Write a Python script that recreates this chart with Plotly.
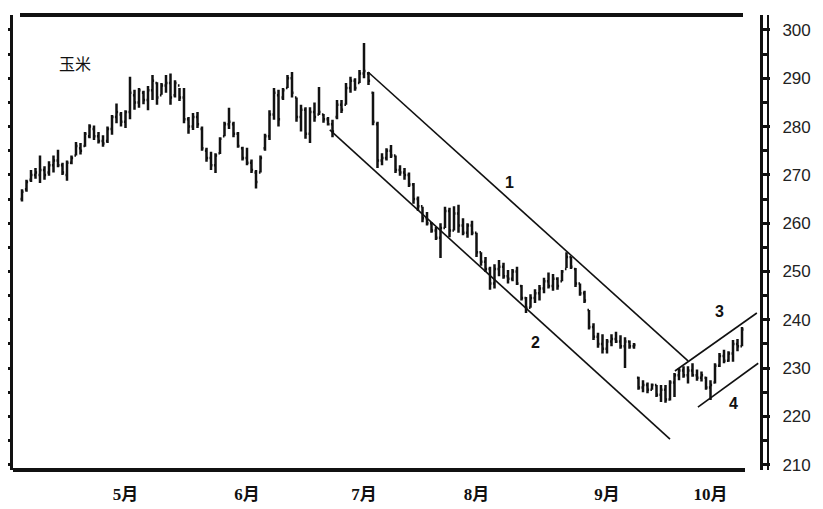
import plotly.graph_objects as go

# ---- data ----
highs = [267, 269, 271, 271.4, 274, 271.8, 272.8, 274, 275.2, 272.5,
         273, 274, 276.8, 276.6, 278.9, 280.5, 280.2, 278.9, 278.2, 280,
         282.4, 284.8, 283, 283.4, 290.3, 287.6, 288, 287.4, 288.4, 290.7,
         289.2, 289, 290.7, 291, 289.6, 288, 288, 282, 282.8, 283,
         280, 275.6, 274.8, 274.5, 277.8, 281, 283.9, 281, 278.9, 275.8,
         275.6, 273.2, 271, 274, 278.5, 283.4, 288, 287.6, 288, 290.7,
         291.3, 286, 284.5, 284, 284, 285, 288.2, 282.6, 282, 281.4,
         285.5, 285.5, 289, 290.3, 290, 291.7, 297.3, 291.3, 287.2, 281,
         274.5, 275.5, 276.2, 274, 272, 271.4, 270.5, 268.3, 265.5, 263.4,
         262.3, 260.2, 259.2, 260, 263.4, 263.2, 263.5, 263.8, 261, 260,
         260.5, 258, 254, 253, 251, 251.5, 252.4, 251.8, 250.3, 250.5,
         251, 247.2, 244.7, 245.3, 246.3, 247.2, 248.7, 249.8, 249.5, 248.8,
         250.3, 254, 253, 250.7, 247.5, 246, 242, 239.3, 237.3, 237,
         236, 237, 237.5, 236.8, 236.4, 235.7, 235.2, 228.2, 227.5, 227,
         226.8, 226.5, 226.5, 226.5, 227.5, 229, 230, 230.4, 230.4, 231,
         229.7, 229.3, 228.2, 227.5, 231, 233.1, 233.8, 233.5, 235.8, 236,
         238.5]
lows = [264.5, 266.5, 268.5, 269.2, 268.3, 269, 269.8, 270.5, 271.6, 270,
        268.8, 272.2, 274, 274.2, 275.8, 277.6, 277.2, 276.5, 275.8, 276.6,
        278.3, 280.7, 280, 279.7, 281.5, 283.5, 283.9, 284.6, 283.4, 285.5,
        284.5, 286.6, 287, 284.5, 286, 285.3, 280.7, 278.5, 279.3, 279.7,
        275, 272.7, 271, 270.4, 274.3, 278, 279.5, 277.8, 275.6, 273,
        272, 270.4, 267.2, 270.5, 275, 277.2, 281.4, 280, 285.5, 288,
        286, 281, 279, 277.5, 276.6, 281, 282.4, 280.8, 280.2, 277.8,
        281.5, 282.8, 284.5, 287, 287.4, 289, 290, 288.6, 280.3, 271.4,
        272, 273, 273.5, 270.4, 269.8, 269, 267.5, 264, 262.5, 260.2,
        259.5, 258, 256.5, 252.8, 259, 257.1, 258.5, 258, 257.5, 257,
        257.5, 253, 251.2, 249.9, 246.2, 246.5, 249, 248.5, 247.5, 248,
        247.2, 244, 241.4, 242.5, 243.5, 244, 245.5, 246.5, 246, 246.2,
        248, 250.7, 250.5, 246.8, 245, 243.5, 238, 235.8, 234.2, 233,
        233, 234.5, 235.2, 234, 230, 234, 234, 225.5, 225, 224.8,
        225.5, 224, 223, 222.8, 223.3, 224, 227.5, 228, 226.8, 228.2,
        227.4, 227.2, 225.5, 223.4, 226.8, 230.2, 231, 231.3, 231.3, 233.5,
        234.5]
opens = [265, 267, 269, 270, 270, 271, 270.5, 272, 273, 272,
         270, 272.5, 274, 275.5, 276, 278, 279.5, 278, 277, 277,
         279.5, 282, 282.5, 281, 283, 286.5, 285, 287, 285.5, 287.5,
         289, 286.5, 288.5, 289, 286.5, 288.5, 286, 281.5, 280, 282,
         279.5, 275, 273.5, 272, 274.5, 278, 280.5, 280.5, 278.5, 275.5,
         273.5, 272.5, 270.5, 270.5, 275.5, 278, 282.5, 286.5, 286, 288,
         290, 286, 282, 283.5, 278.5, 283, 282.5, 282.5, 281.5, 280.5,
         282, 284.5, 284.5, 288, 289.5, 289, 291, 291, 287, 280.5,
         273, 273.5, 275, 274, 271, 270.5, 270, 268, 265, 263.5,
         261, 260, 258.5, 257, 259, 262.5, 258.5, 262, 259.5, 258,
         259.5, 258, 254, 252, 250.5, 247.5, 250.5, 251, 249, 248.5,
         250, 247, 244.5, 242.5, 244.5, 245.5, 246.5, 248, 247, 248.5,
         248, 250.5, 253, 250.5, 247.5, 245.5, 242, 238.5, 236.5, 235,
         234, 235.5, 236, 235.5, 234.5, 235.5, 234.5, 228, 226, 226.5,
         225.5, 226.5, 224.5, 225.5, 223.5, 227, 228.5, 229.5, 228.5, 229.5,
         228.5, 228, 228, 226, 227, 230.5, 232.5, 231.5, 233, 235,
         234.5]
closes = [266.5, 268.5, 270, 270.5, 271, 270, 272, 273, 272, 270.5,
          272.5, 273.5, 276, 275, 278.5, 280, 278, 277, 276.5, 279.5,
          282, 283, 281, 283, 287, 285, 287.5, 285.5, 287.5, 289.5,
          286, 288.5, 289, 286, 289, 286, 281.5, 280, 282, 280.5,
          275.5, 273.5, 272, 274, 277.5, 280.5, 281, 278.5, 276, 273.5,
          272.5, 271, 268.5, 273.5, 278, 282.5, 287, 281.5, 287.5, 290,
          287, 282, 283.5, 278.5, 283, 282, 283, 281.5, 280.5, 279,
          284.5, 283.5, 288, 289.5, 288, 291, 291.5, 289.5, 281, 273,
          273.5, 275, 274, 271, 270.5, 270, 268, 265, 263.5, 261,
          260, 258.5, 257, 259, 262.5, 258.5, 262, 259.5, 258, 259.5,
          258, 254, 252, 250.5, 247.5, 250.5, 251, 249, 248.5, 250,
          247.5, 244.5, 242.5, 244.5, 245.5, 246.5, 248, 247, 248.5, 247,
          250, 253, 251, 247.5, 245.5, 244, 238.5, 236.5, 235, 234,
          235.5, 236, 235.5, 234.5, 235.5, 234.5, 234.8, 226, 226.5, 225.5,
          226.5, 224.5, 225.5, 223.5, 227, 228.5, 229.5, 228.5, 229.5, 228.5,
          228, 228.5, 226, 226.5, 230.5, 232.5, 231.5, 233, 235, 234.5,
          238]
days = list(range(len(highs)))

month_pos = [23, 50, 76, 101, 130, 153]
month_labels = ["5月", "6月", "7月", "8月", "9月", "10月"]
price_ticks = [210, 220, 230, 240, 250, 260, 270, 280, 290, 300]

# trend / channel lines: (x start, x end), (price start, price end)
line1_x = [76.9, 148.0]
line1_y = [291.3, 231.5]
line2_x = [68.4, 144.0]
line2_y = [279.3, 215.3]
line3_x = [145.1, 163.3]
line3_y = [229.4, 241.4]
line4_x = [150.2, 163.6]
line4_y = [221.9, 231.0]

label_text = ["1", "2", "3", "4"]
label_x = [108.4, 114.0, 155.1, 158.0]
label_y = [268.5, 235.4, 241.8, 222.6]

title_text = "玉米"

X_RANGE = [-2, 164]
Y_RANGE = [208.9, 303.1]

fig = go.Figure()

fig.add_trace(go.Ohlc(
    x=days, open=opens, high=highs, low=lows, close=closes,
    increasing=dict(line=dict(color="#111111", width=2.5)),
    decreasing=dict(line=dict(color="#111111", width=2.5)),
    tickwidth=0.35, showlegend=False, hoverinfo="skip",
))

for lx, ly in [(line1_x, line1_y), (line2_x, line2_y),
               (line3_x, line3_y), (line4_x, line4_y)]:
    fig.add_trace(go.Scatter(x=lx, y=ly, mode="lines",
                             line=dict(color="#111111", width=1.6),
                             showlegend=False, hoverinfo="skip"))

# left axis (ticks only) on an overlaying axis
fig.add_trace(go.Scatter(x=[X_RANGE[0]], y=[Y_RANGE[0]], yaxis="y2",
                         mode="markers", marker=dict(opacity=0),
                         showlegend=False, hoverinfo="skip"))

for t, lx, ly in zip(label_text, label_x, label_y):
    fig.add_annotation(x=lx, y=ly, text="<b>%s</b>" % t, showarrow=False,
                       font=dict(family="Liberation Sans", size=16, color="#111111"))

fig.add_annotation(x=11.8, y=293.2, text=title_text, showarrow=False,
                   font=dict(family="Noto Sans CJK SC", size=16, color="#111111"))

PW = 747  # plot width in px
# frame lines
fig.add_shape(type="line", xref="paper", yref="paper",
              x0=7 / PW, x1=730 / PW, y0=1, y1=1,
              line=dict(color="#111111", width=4))
fig.add_shape(type="line", xref="paper", yref="paper",
              x0=0, x1=732 / PW, y0=0, y1=0,
              line=dict(color="#111111", width=4))
fig.add_shape(type="line", xref="paper", yref="paper",
              x0=1 + 8 / PW, x1=1 + 8 / PW, y0=0, y1=1.0,
              line=dict(color="#111111", width=2))

fig.update_layout(
    width=807, height=501,
    margin=dict(l=5, r=55, t=7, b=39, autoexpand=False),
    paper_bgcolor="white", plot_bgcolor="white",
    showlegend=False,
    xaxis=dict(
        range=X_RANGE, rangeslider=dict(visible=False),
        showgrid=False, zeroline=False, showline=False,
        tickvals=month_pos, ticktext=month_labels, ticks="",
        ticklabelstandoff=12, automargin=False,
        tickfont=dict(family="Liberation Serif, Noto Sans CJK SC", size=17,
                      color="#111111", weight="bold"),
    ),
    yaxis=dict(
        range=Y_RANGE, side="right", showgrid=False, zeroline=False,
        showline=True, linecolor="#111111", linewidth=3,
        tickvals=price_ticks, ticks="outside", ticklen=7, tickwidth=3,
        tickcolor="#111111", automargin=False,
        minor=dict(dtick=5, tick0=0, ticks="outside", ticklen=5, tickwidth=3,
                   tickcolor="#111111", showgrid=False),
        ticklabelstandoff=9,
        tickfont=dict(family="Liberation Sans", size=17, color="#222222"),
    ),
    yaxis2=dict(
        range=Y_RANGE, overlaying="y", side="left", showgrid=False,
        zeroline=False, showline=True, linecolor="#111111", linewidth=3,
        dtick=5, tick0=0, ticks="outside", ticklen=5, tickwidth=3,
        tickcolor="#111111", showticklabels=False, automargin=False,
    ),
)

fig.write_html("out.html")
